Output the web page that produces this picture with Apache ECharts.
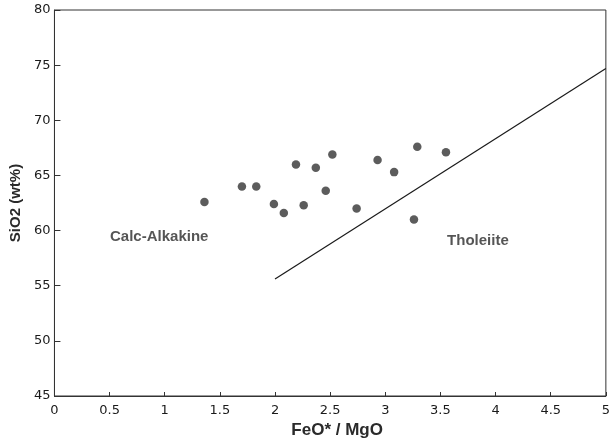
<!DOCTYPE html>
<html>
<head>
<meta charset="utf-8">
<script src="https://cdn.jsdelivr.net/npm/echarts@6/dist/echarts.min.js"></script>
<style>html,body{margin:0;padding:0;background:#fff}#c{width:613px;height:444px}</style>
</head>
<body>
<div id="c"></div>
<script>
const feoMgo = [1.36, 1.70, 1.83, 1.99, 2.08, 2.19, 2.26, 2.37, 2.46, 2.52, 2.74, 2.93, 3.08, 3.26, 3.29, 3.55];
const sio2   = [62.6, 64.0, 64.0, 62.4, 61.6, 66.0, 62.3, 65.7, 63.6, 66.9, 62.0, 66.4, 65.3, 61.0, 67.6, 67.1];
const dividerX = [2, 5];
const dividerY = [55.6, 74.7];
const fieldNames = ['Calc-Alkakine', 'Tholeiite'];
const fieldX = [0.95, 3.84];
const fieldY = [59.4, 59.1];
const xTicks = ['0', '0.5', '1', '1.5', '2', '2.5', '3', '3.5', '4', '4.5', '5'];
const yTicks = ['45', '50', '55', '60', '65', '70', '75', '80'];

const chart = echarts.init(document.getElementById('c'));
const font = 'Liberation Sans, Arial, sans-serif';
const tickFont = 'DejaVu Sans, sans-serif';
chart.setOption({
  animation: false,
  backgroundColor: '#fff',
  grid: {left: 53, right: 3, top: 10, bottom: 48, show: true, borderColor: '#333', borderWidth: 1},
  xAxis: {
    type: 'value', min: 0, max: 5, interval: 0.5,
    name: 'FeO* / MgO', nameLocation: 'middle', nameGap: 25,
    nameTextStyle: {fontFamily: font, fontSize: 17, fontWeight: 'bold', color: '#2a2a2a', padding: [0, 0, 0, 14]},
    axisLine: {lineStyle: {color: '#333'}},
    axisTick: {inside: true, length: 4, lineStyle: {color: '#333'}},
    axisLabel: {fontFamily: tickFont, fontSize: 13, color: '#1a1a1a', margin: 8,
      formatter: v => xTicks[Math.round(v / 0.5)]},
    splitLine: {show: false}
  },
  yAxis: {
    type: 'value', min: 45, max: 80, interval: 5,
    name: 'SiO2 (wt%)', nameLocation: 'middle', nameGap: 22, nameRotate: 90,
    nameTextStyle: {fontFamily: font, fontSize: 15, fontWeight: 'bold', color: '#2a2a2a'},
    axisLine: {lineStyle: {color: '#333'}},
    axisTick: {inside: true, length: 6, lineStyle: {color: '#333'}},
    axisLabel: {fontFamily: tickFont, fontSize: 13, color: '#1a1a1a', margin: 4,
      formatter: v => yTicks[Math.round((v - 45) / 5)]},
    splitLine: {show: false}
  },
  series: [
    {
      type: 'scatter', symbolSize: 8.5,
      itemStyle: {color: '#333'},
      data: feoMgo.map((x, i) => [x, sio2[i]])
    },
    {
      type: 'line', symbol: 'none',
      lineStyle: {color: '#1a1a1a', width: 1.2},
      data: dividerX.map((x, i) => [x, dividerY[i]])
    },
    {
      type: 'scatter', symbolSize: 0, silent: true,
      label: {show: true, position: 'inside', formatter: p => p.name,
        fontFamily: font, fontSize: 15, fontWeight: 'bold', color: '#2a2a2a'},
      data: fieldNames.map((n, i) => ({name: n, value: [fieldX[i], fieldY[i]]}))
    }
  ]
});
</script>
</body>
</html>
